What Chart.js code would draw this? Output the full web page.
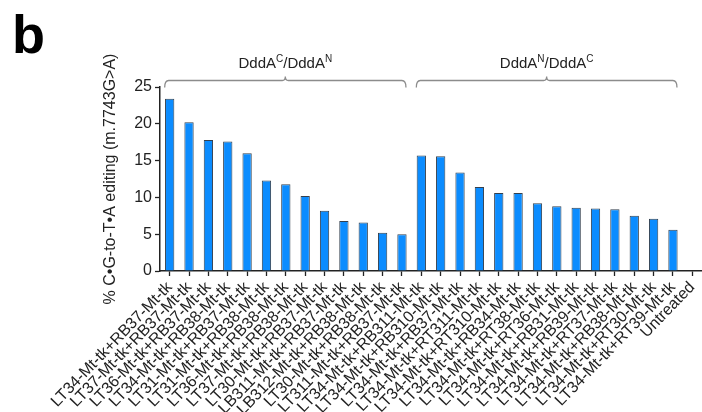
<!DOCTYPE html>
<html>
<head>
<meta charset="utf-8">
<script src="https://cdn.jsdelivr.net/npm/chart.js@4.4.1/dist/chart.umd.min.js"></script>
<style>
  html, body { margin: 0; padding: 0; background: #fff; }
  canvas { display: block; }
</style>
</head>
<body>
<canvas id="editingChart" width="702" height="412"></canvas>
<script>
const FONT = '"Liberation Sans", Arial, Helvetica, sans-serif';

// construct pairs, split-DddA orientation 1 then orientation 2, then the control
const pairLabels = [
  "LT34-Mt-tk+RB37-Mt-tk", "LT37-Mt-tk+RB37-Mt-tk", "LT36-Mt-tk+RB37-Mt-tk",
  "LT34-Mt-tk+RB38-Mt-tk", "LT31-Mt-tk+RB37-Mt-tk", "LT31-Mt-tk+RB38-Mt-tk",
  "LT36-Mt-tk+RB38-Mt-tk", "LT37-Mt-tk+RB38-Mt-tk", "LT30-Mt-tk+RB37-Mt-tk",
  "LB311-Mt-tk+RB37-Mt-tk", "LB312-Mt-tk+RB38-Mt-tk", "LT30-Mt-tk+RB38-Mt-tk",
  "LT311-Mt-tk+RB37-Mt-tk",
  "LT34-Mt-tk+RB311-Mt-tk", "LT34-Mt-tk+RB310-Mt-tk", "LT34-Mt-tk+RB37-Mt-tk",
  "LT34-Mt-tk+RT311-Mt-tk", "LT34-Mt-tk+RT310-Mt-tk", "LT34-Mt-tk+RB34-Mt-tk",
  "LT34-Mt-tk+RT38-Mt-tk", "LT34-Mt-tk+RT36-Mt-tk", "LT34-Mt-tk+RB31-Mt-tk",
  "LT34-Mt-tk+RB39-Mt-tk", "LT34-Mt-tk+RT37-Mt-tk", "LT34-Mt-tk+RB38-Mt-tk",
  "LT34-Mt-tk+RT30-Mt-tk", "LT34-Mt-tk+RT39-Mt-tk",
  "Untreated"
];

const editingPercent = [
  23.4, 20.2, 17.8, 17.6, 16.0, 12.3, 11.8, 10.2, 8.2, 6.8, 6.6, 5.2, 5.0,
  15.7, 15.6, 13.4, 11.4, 10.6, 10.6, 9.2, 8.8, 8.6, 8.5, 8.4, 7.5, 7.1, 5.6,
  0
];

const yMin = 0;
const yMax = 25;
const yStep = 5;

// name pieces: [base, superscript, base, superscript]
const groupNames = [
  ["DddA", "C", "/DddA", "N"],
  ["DddA", "N", "/DddA", "C"]
];
// first and last bar index under each bracket
const groupRanges = [[0, 12], [13, 26]];

function drawBracket(ctx, x1, x2, y) {
  const mid = (x1 + x2) / 2;
  ctx.beginPath();
  ctx.moveTo(x1, y + 7);
  ctx.quadraticCurveTo(x1, y, x1 + 4, y);
  ctx.lineTo(mid - 3, y);
  ctx.quadraticCurveTo(mid, y, mid, y - 4);
  ctx.quadraticCurveTo(mid, y, mid + 3, y);
  ctx.lineTo(x2 - 4, y);
  ctx.quadraticCurveTo(x2, y, x2, y + 7);
  ctx.stroke();
}

function drawSplitName(ctx, parts, cx, y) {
  const big = "15px " + FONT;
  const small = "10px " + FONT;
  const fonts = [big, small, big, small];

  let total = 0;
  parts.forEach((p, i) => {
    ctx.font = fonts[i];
    total += ctx.measureText(p).width;
  });

  let x = cx - total / 2;
  parts.forEach((p, i) => {
    ctx.font = fonts[i];
    ctx.fillText(p, x, i % 2 ? y - 6 : y);
    x += ctx.measureText(p).width;
  });
}

const annotations = {
  id: "annotations",
  afterDraw(chart) {
    const ctx = chart.ctx;
    const xScale = chart.scales.x;

    ctx.save();
    ctx.fillStyle = "#000";
    ctx.font = "bold 54px " + FONT;
    ctx.textAlign = "left";
    ctx.textBaseline = "alphabetic";
    ctx.fillText("b", 12, 53);

    ctx.strokeStyle = "#8c8c8c";
    ctx.lineWidth = 1.3;
    ctx.fillStyle = "#222";
    groupRanges.forEach(([a, b], i) => {
      const x1 = xScale.getPixelForTick(a) - 5;
      const x2 = xScale.getPixelForTick(b) + 4;
      drawBracket(ctx, x1, x2, 80.5);
      drawSplitName(ctx, groupNames[i], (x1 + x2) / 2, 68);
    });
    ctx.restore();
  }
};

new Chart(document.getElementById("editingChart"), {
  type: "bar",
  data: {
    labels: pairLabels,
    datasets: [{
      data: editingPercent,
      backgroundColor: "#0b8cff",
      borderColor: "#34404e",
      borderWidth: ctx => (ctx.raw > 0 ? 1 : 0),
      barPercentage: 0.48,
      categoryPercentage: 1
    }]
  },
  options: {
    responsive: false,
    animation: false,
    devicePixelRatio: 1,
    layout: {
      padding: { left: 101, top: 87, right: 0, bottom: 0 }
    },
    plugins: {
      legend: { display: false },
      tooltip: { enabled: false }
    },
    scales: {
      x: {
        offset: true,
        grid: {
          offset: false,
          drawOnChartArea: false,
          drawTicks: true,
          tickLength: 5,
          tickColor: "#222",
          tickWidth: 1.3
        },
        border: { display: true, color: "#222", width: 1.5 },
        ticks: {
          autoSkip: false,
          minRotation: 46,
          maxRotation: 46,
          padding: 2,
          color: "#222",
          font: { family: FONT, size: 16 }
        },
        afterFit(scale) {
          scale.height = 141;
          scale.paddingLeft = 0;
          scale.paddingRight = 0;
        }
      },
      y: {
        min: yMin,
        max: yMax,
        grid: {
          drawOnChartArea: false,
          drawTicks: true,
          tickLength: 5,
          tickColor: "#222",
          tickWidth: 1.3
        },
        border: { display: true, color: "#222", width: 1.5 },
        ticks: {
          stepSize: yStep,
          padding: 3,
          color: "#222",
          font: { family: FONT, size: 16 }
        },
        title: {
          display: true,
          text: "% C\u2022G-to-T\u2022A editing (m.7743G>A)",
          color: "#222",
          padding: { top: 0, bottom: 0 },
          font: { family: FONT, size: 16 }
        },
        afterFit(scale) {
          scale.width = 59;
          scale.paddingTop = 0;
          scale.paddingBottom = 0;
        }
      }
    }
  },
  plugins: [annotations]
});
</script>
</body>
</html>
